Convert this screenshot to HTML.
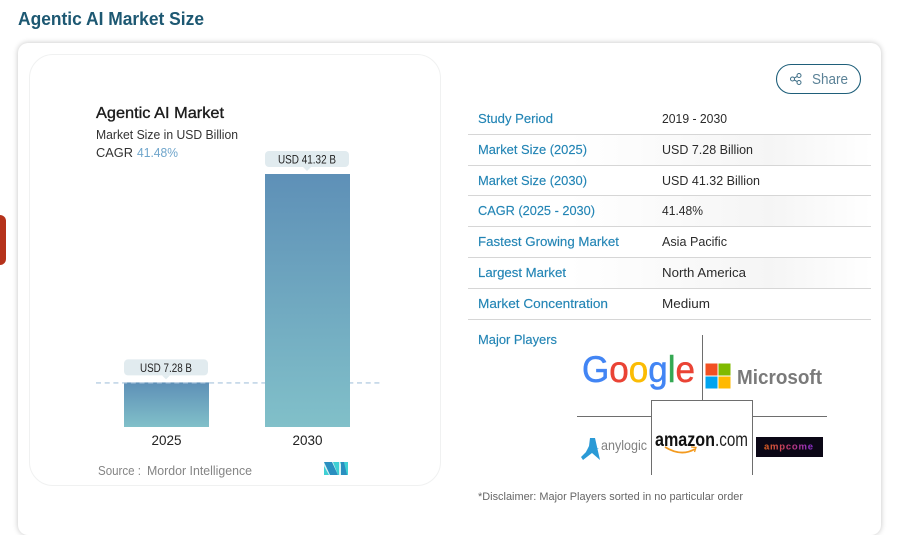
<!DOCTYPE html>
<html lang="en">
<head>
<meta charset="utf-8">
<title>Agentic AI Market Size</title>
<style>
html,body{margin:0;padding:0;width:898px;height:534px;overflow:hidden;background:#fff;font-family:"Liberation Sans",sans-serif}
.abs{position:absolute;box-sizing:border-box}
#card{left:18px;top:43px;width:863px;height:492px;background:#fff;border-radius:10px;box-shadow:0 0 6px rgba(0,0,0,.24)}
#inner{left:29px;top:54px;width:412px;height:432px;background:#fff;border:1px solid #f0f1f1;border-radius:24px}
#tab{left:0;top:215px;width:6px;height:50px;background:#b5321b;border-radius:0 6px 6px 0}
svg{position:absolute;left:0;top:0}
text{font-family:"Liberation Sans",sans-serif}
.lab{font-size:13px;fill:#2385b5;stroke:#2385b5;stroke-width:.15}
.val{font-size:13px;fill:#2b2b2b}
</style>
</head>
<body>
<div class="abs" id="card"></div>
<div class="abs" id="inner"></div>
<div class="abs" id="tab"></div>
<svg id="page" width="898" height="534" viewBox="0 0 898 534">
  <defs>
    <linearGradient id="barFill" x1="0" y1="0" x2="0" y2="1">
      <stop offset="0" stop-color="#5e90b7"/>
      <stop offset="1" stop-color="#81c0c9"/>
    </linearGradient>
    <linearGradient id="rowFill" x1="0" y1="0" x2="1" y2="0">
      <stop offset="0.25" stop-color="#f5f5f5" stop-opacity="0"/>
      <stop offset="0.75" stop-color="#f5f5f5"/>
      <stop offset="1" stop-color="#f5f5f5" stop-opacity="0"/>
    </linearGradient>
    <linearGradient id="ampFill" x1="0" y1="0" x2="1" y2="0">
      <stop offset="0" stop-color="#e0601c"/>
      <stop offset="0.5" stop-color="#c43a70"/>
      <stop offset="1" stop-color="#8a2fd0"/>
    </linearGradient>
  </defs>

  <text x="18" y="25" font-size="18" font-weight="700" fill="#1d5872" textLength="186" lengthAdjust="spacingAndGlyphs">Agentic AI Market Size</text>

  <!-- chart heading -->
  <text x="96" y="118" font-size="16" fill="#1c1c1c" stroke="#1c1c1c" stroke-width="0.35" textLength="128" lengthAdjust="spacingAndGlyphs">Agentic AI Market</text>
  <text x="96" y="139" font-size="13" fill="#333" textLength="142" lengthAdjust="spacingAndGlyphs">Market Size in USD Billion</text>
  <text x="96" y="157" font-size="13" fill="#333" textLength="37" lengthAdjust="spacingAndGlyphs">CAGR</text>
  <text x="137" y="157" font-size="13" fill="#6fa5cb" textLength="41" lengthAdjust="spacingAndGlyphs">41.48%</text>

  <g id="plot"></g>

  <text x="98" y="475" font-size="12.5" fill="#858585" textLength="43" lengthAdjust="spacingAndGlyphs">Source :</text>
  <text x="147" y="475" font-size="12.5" fill="#858585" textLength="105" lengthAdjust="spacingAndGlyphs">Mordor Intelligence</text>
  <g>
    <rect x="324" y="462" width="24" height="13" fill="#d5f2f3"/>
    <polygon points="324,462 332,462 338,475 330,475" fill="#2a8fc0"/>
    <polygon points="324,466 329,475 324,475" fill="#3fd0d4"/>
    <polygon points="333,462 339,462 339,475 338,475" fill="#3fd0d4"/>
    <polygon points="340,462 348,462 348,475 345,475" fill="#3fd0d4"/>
    <polygon points="341,462 344,462 347,475 341,475" fill="#2a8fc0"/>
  </g>

  <!-- share button -->
  <g>
    <rect x="776.5" y="64.5" width="84" height="29" rx="14.5" fill="#fff" stroke="#1f5f7a" stroke-width="1.1"/>
    <g fill="none" stroke="#3f6f87" stroke-width="1">
      <circle cx="792.5" cy="79" r="2"/><circle cx="799" cy="75.5" r="2"/><circle cx="799" cy="82.5" r="2"/>
      <path d="M794.3 78 L797.2 76.4 M794.3 80 L797.2 81.6"/>
    </g>
    <text x="812" y="84" font-size="14.5" fill="#5b8297" textLength="36" lengthAdjust="spacingAndGlyphs">Share</text>
  </g>

  <!-- key facts table -->
  <g>
    <rect x="468" y="135" width="403" height="30" fill="url(#rowFill)"/>
    <rect x="468" y="196" width="403" height="30" fill="url(#rowFill)"/>
    <rect x="468" y="258" width="403" height="30" fill="url(#rowFill)"/>
    <g stroke="#d6d6d6" stroke-width="1">
      <line x1="468" x2="871" y1="134.5" y2="134.5"/>
      <line x1="468" x2="871" y1="165.5" y2="165.5"/>
      <line x1="468" x2="871" y1="195.5" y2="195.5"/>
      <line x1="468" x2="871" y1="226.5" y2="226.5"/>
      <line x1="468" x2="871" y1="257.5" y2="257.5"/>
      <line x1="468" x2="871" y1="288.5" y2="288.5"/>
      <line x1="468" x2="871" y1="319.5" y2="319.5"/>
    </g>
    <text class="lab" x="478" y="123" textLength="75" lengthAdjust="spacingAndGlyphs">Study Period</text>
    <text class="val" x="662" y="123" textLength="65" lengthAdjust="spacingAndGlyphs">2019 - 2030</text>
    <text class="lab" x="478" y="154" textLength="109" lengthAdjust="spacingAndGlyphs">Market Size (2025)</text>
    <text class="val" x="662" y="154" textLength="91" lengthAdjust="spacingAndGlyphs">USD 7.28 Billion</text>
    <text class="lab" x="478" y="185" textLength="109" lengthAdjust="spacingAndGlyphs">Market Size (2030)</text>
    <text class="val" x="662" y="185" textLength="98" lengthAdjust="spacingAndGlyphs">USD 41.32 Billion</text>
    <text class="lab" x="478" y="215" textLength="117" lengthAdjust="spacingAndGlyphs">CAGR (2025 - 2030)</text>
    <text class="val" x="662" y="215" textLength="41" lengthAdjust="spacingAndGlyphs">41.48%</text>
    <text class="lab" x="478" y="246" textLength="141" lengthAdjust="spacingAndGlyphs">Fastest Growing Market</text>
    <text class="val" x="662" y="246" textLength="65" lengthAdjust="spacingAndGlyphs">Asia Pacific</text>
    <text class="lab" x="478" y="277" textLength="88" lengthAdjust="spacingAndGlyphs">Largest Market</text>
    <text class="val" x="662" y="277" textLength="84" lengthAdjust="spacingAndGlyphs">North America</text>
    <text class="lab" x="478" y="308" textLength="130" lengthAdjust="spacingAndGlyphs">Market Concentration</text>
    <text class="val" x="662" y="308" textLength="48" lengthAdjust="spacingAndGlyphs">Medium</text>
    <text class="lab" x="478" y="344" textLength="79" lengthAdjust="spacingAndGlyphs">Major Players</text>
  </g>

  <!-- major players -->
  <g>
    <g stroke="#6e6e6e" stroke-width="1" fill="none">
      <path d="M702.5 335 V400.5"/>
      <path d="M651.5 475 V400.5 H752.5 V475"/>
      <path d="M577 416.5 H651.5 M752.5 416.5 H827"/>
    </g>
    <text x="582" y="382" font-size="37" stroke-width="0.5" textLength="113" lengthAdjust="spacingAndGlyphs"><tspan fill="#4285f4" stroke="#4285f4">G</tspan><tspan fill="#ea4335" stroke="#ea4335">o</tspan><tspan fill="#fbbc05" stroke="#fbbc05">o</tspan><tspan fill="#4285f4" stroke="#4285f4">g</tspan><tspan fill="#34a853" stroke="#34a853">l</tspan><tspan fill="#ea4335" stroke="#ea4335">e</tspan></text>
    <g>
      <rect x="705.5" y="363.5" width="12" height="12" fill="#f25022"/>
      <rect x="718.5" y="363.5" width="12" height="12" fill="#7fba00"/>
      <rect x="705.5" y="376.5" width="12" height="12" fill="#00a4ef"/>
      <rect x="718.5" y="376.5" width="12" height="12" fill="#ffb900"/>
      <text x="737" y="384" font-size="20" font-weight="700" fill="#7a7a7a" textLength="85" lengthAdjust="spacingAndGlyphs">Microsoft</text>
    </g>
    <g>
      <polygon points="590,438 595,438 600,460 592,453 583,460 581,457 586,452 589,446" fill="#2b9ad6"/>
      <polygon points="586,451 599,448 590,454" fill="#2b9ad6"/>
      <text x="601" y="450" font-size="14" fill="#808080" textLength="46" lengthAdjust="spacingAndGlyphs">anylogic</text>
    </g>
    <g>
      <text x="655" y="446" font-size="19" font-weight="700" fill="#111" textLength="60" lengthAdjust="spacingAndGlyphs">amazon</text>
      <text x="715" y="446" font-size="19" fill="#222" textLength="33" lengthAdjust="spacingAndGlyphs">.com</text>
      <path d="M665 447 Q681 457 695 449" fill="none" stroke="#f39a1f" stroke-width="1.8"/>
      <path d="M691 447 L696 447.5 L694.5 452" fill="none" stroke="#f39a1f" stroke-width="1.3"/>
    </g>
    <g>
      <rect x="756" y="437" width="67" height="20" fill="#0b0716"/>
      <text x="764" y="449.5" font-size="9.5" font-weight="700" fill="url(#ampFill)" textLength="49" lengthAdjust="spacing">ampcome</text>
    </g>
  </g>

  <text x="478" y="500" font-size="11" fill="#666" textLength="265" lengthAdjust="spacingAndGlyphs">*Disclaimer: Major Players sorted in no particular order</text>
</svg>

<script>
const categories = ["2025", "2030"];
const seriesValues = [7.28, 41.32];

const NS = "http://www.w3.org/2000/svg";
const plot = document.getElementById("plot");
const baselineY = 427;
const pxPerUnit = 253 / 41.32;
const firstCenter = 166.5;
const step = 141;
const barWidth = 85;

function yAxis(v) { return baselineY - v * pxPerUnit; }
function xAxis(i) { return firstCenter + i * step; }

function make(tag, attrs, parent) {
  const el = document.createElementNS(NS, tag);
  for (const k in attrs) el.setAttribute(k, attrs[k]);
  parent.appendChild(el);
  return el;
}

categories.forEach(function (cat, i) {
  const cx = xAxis(i);
  const top = yAxis(seriesValues[i]);

  if (i === 1) {
    const refYBehind = yAxis(seriesValues[0]);
    const refLine = make("line", { x1: 96, x2: 379.5, y1: refYBehind + 0.5, y2: refYBehind + 0.5, stroke: "#a7c3dc", "stroke-width": 1.2, "stroke-dasharray": "5 3.7" }, plot);
    
    
  }

  const bar = make("rect", { x: cx - barWidth / 2, y: top, width: barWidth, height: baselineY - top, fill: "url(#barFill)" }, plot);
  
  

  const callout = make("g", {}, plot);
  
  
  make("rect", { x: cx - 42.5, y: top - 23, width: 84, height: 16, rx: 4, fill: "#e1ebef" }, callout);
  make("polygon", { points: (cx - 4.5) + "," + (top - 7) + " " + (cx + 3.5) + "," + (top - 7) + " " + (cx - 0.5) + "," + (top - 3), fill: "#e1ebef" }, callout);
  const label = make("text", { x: cx - 0.5, y: top - 10.5, "font-size": 11.5, fill: "#222", "text-anchor": "middle", textLength: i === 0 ? 52 : 58, lengthAdjust: "spacingAndGlyphs" }, callout);
  label.textContent = "USD " + seriesValues[i].toFixed(2) + " B";

  const tick = make("text", { x: cx, y: 445, "font-size": 14, fill: "#222", "text-anchor": "middle", textLength: 30, lengthAdjust: "spacingAndGlyphs" }, plot);
  
  
  tick.textContent = cat;
});
</script>
</body>
</html>
